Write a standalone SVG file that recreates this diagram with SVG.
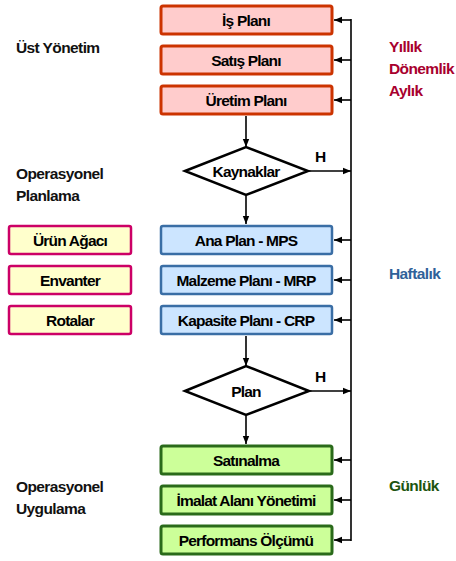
<svg xmlns="http://www.w3.org/2000/svg" width="456" height="561" viewBox="0 0 456 561">
  <style>
    .t { font-family: "Liberation Sans", Arial, sans-serif; font-weight: bold; font-size: 15.5px; letter-spacing: -0.8px; fill: #000; }
    .c { text-anchor: middle; }
    .lbl { font-family: "Liberation Sans", Arial, sans-serif; font-weight: bold; font-size: 15.5px; letter-spacing: -0.6px; fill: #111; }
    .red { fill: #FFCCCC; stroke: #CC3300; stroke-width: 3; }
    .blue { fill: #CCE5FF; stroke: #3A6EA5; stroke-width: 2.5; }
    .green { fill: #CCFF99; stroke: #2A6A1A; stroke-width: 3; }
    .yellow { fill: #FFFFCC; stroke: #CC0066; stroke-width: 2.5; }
    .dia { fill: #fff; stroke: #000; stroke-width: 2.5; }
    .ln { fill: none; stroke: #000; stroke-width: 1.6; }
    .arr { fill: none; stroke: #000; stroke-width: 1.6; marker-end: url(#ah); }
  </style>
  <defs>
    <marker id="ah" markerUnits="userSpaceOnUse" markerWidth="8" markerHeight="8" viewBox="0 0 8 8" refX="8" refY="4" orient="auto">
      <path d="M0,0.8 L8,4 L0,7.2 Z" fill="#000"/>
    </marker>
  </defs>

  <rect width="456" height="561" fill="#fff"/>

  <!-- level labels, left -->
  <g id="level-labels">
    <text class="lbl" x="16" y="53">Üst Yönetim</text>
    <text class="lbl" x="16" y="179">Operasyonel</text>
    <text class="lbl" x="16" y="201">Planlama</text>
    <text class="lbl" x="16" y="492">Operasyonel</text>
    <text class="lbl" x="16" y="514">Uygulama</text>
  </g>

  <!-- horizon labels, right -->
  <g id="horizon-labels">
    <text class="lbl" x="389" y="52" style="fill:#A8002E">Yıllık</text>
    <text class="lbl" x="389" y="74" style="fill:#A8002E">Dönemlik</text>
    <text class="lbl" x="389" y="96" style="fill:#A8002E">Aylık</text>
    <text class="lbl" x="389" y="279" style="fill:#2F6199">Haftalık</text>
    <text class="lbl" x="389" y="491" style="fill:#1C5410">Günlük</text>
  </g>

  <!-- connectors -->
  <g id="connectors">
    <line class="ln" x1="351" y1="19" x2="351" y2="541"/>
    <line class="arr" x1="351" y1="20" x2="334" y2="20"/>
    <line class="arr" x1="351" y1="60" x2="334" y2="60"/>
    <line class="arr" x1="351" y1="100" x2="334" y2="100"/>
    <line class="arr" x1="351" y1="240" x2="334" y2="240"/>
    <line class="arr" x1="351" y1="280" x2="334" y2="280"/>
    <line class="arr" x1="351" y1="320" x2="334" y2="320"/>
    <line class="arr" x1="351" y1="460" x2="334" y2="460"/>
    <line class="arr" x1="351" y1="500" x2="334" y2="500"/>
    <line class="arr" x1="351" y1="540" x2="334" y2="540"/>
    <line class="arr" x1="246" y1="116" x2="246" y2="147"/>
    <line class="arr" x1="246" y1="196" x2="246" y2="224"/>
    <line class="arr" x1="246" y1="336" x2="246" y2="366"/>
    <line class="arr" x1="246" y1="416" x2="246" y2="444"/>
    <line class="arr" x1="308" y1="171" x2="351" y2="171"/>
    <line class="arr" x1="309" y1="391" x2="351" y2="391"/>
    <text class="t" x="315" y="162">H</text>
    <text class="t" x="315" y="382">H</text>
  </g>

  <!-- top management plans -->
  <g id="is-plani"><rect class="red" x="161" y="6" width="171" height="28" rx="2"/><text class="t c" x="246" y="26">İş Planı</text></g>
  <g id="satis-plani"><rect class="red" x="161" y="46" width="171" height="28" rx="2"/><text class="t c" x="246" y="66">Satış Planı</text></g>
  <g id="uretim-plani"><rect class="red" x="161" y="86" width="171" height="28" rx="2"/><text class="t c" x="246" y="106">Üretim Planı</text></g>

  <!-- decision: resources -->
  <g id="kaynaklar"><polygon class="dia" points="185,171 246,147 308,171 246,195"/><text class="t c" x="246" y="177">Kaynaklar</text></g>

  <!-- inputs -->
  <g id="urun-agaci"><rect class="yellow" x="9" y="226" width="122" height="28" rx="2"/><text class="t c" x="70" y="246">Ürün Ağacı</text></g>
  <g id="envanter"><rect class="yellow" x="9" y="266" width="122" height="28" rx="2"/><text class="t c" x="70" y="286">Envanter</text></g>
  <g id="rotalar"><rect class="yellow" x="9" y="306" width="122" height="28" rx="2"/><text class="t c" x="70" y="326">Rotalar</text></g>

  <!-- operational planning -->
  <g id="ana-plan"><rect class="blue" x="161" y="226" width="171" height="28" rx="2"/><text class="t c" x="246" y="246">Ana Plan - MPS</text></g>
  <g id="malzeme-plani"><rect class="blue" x="161" y="266" width="171" height="28" rx="2"/><text class="t c" x="246" y="286">Malzeme Planı - MRP</text></g>
  <g id="kapasite-plani"><rect class="blue" x="161" y="306" width="171" height="28" rx="2"/><text class="t c" x="246" y="326">Kapasite Planı - CRP</text></g>

  <!-- decision: plan -->
  <g id="plan"><polygon class="dia" points="185,391 246,366 309,391 246,415"/><text class="t c" x="246" y="397">Plan</text></g>

  <!-- execution -->
  <g id="satinalma"><rect class="green" x="161" y="446" width="171" height="28" rx="2"/><text class="t c" x="246" y="466">Satınalma</text></g>
  <g id="imalat"><rect class="green" x="161" y="486" width="171" height="28" rx="2"/><text class="t c" x="246" y="506">İmalat Alanı Yönetimi</text></g>
  <g id="performans"><rect class="green" x="161" y="526" width="171" height="28" rx="2"/><text class="t c" x="246" y="546">Performans Ölçümü</text></g>
</svg>
